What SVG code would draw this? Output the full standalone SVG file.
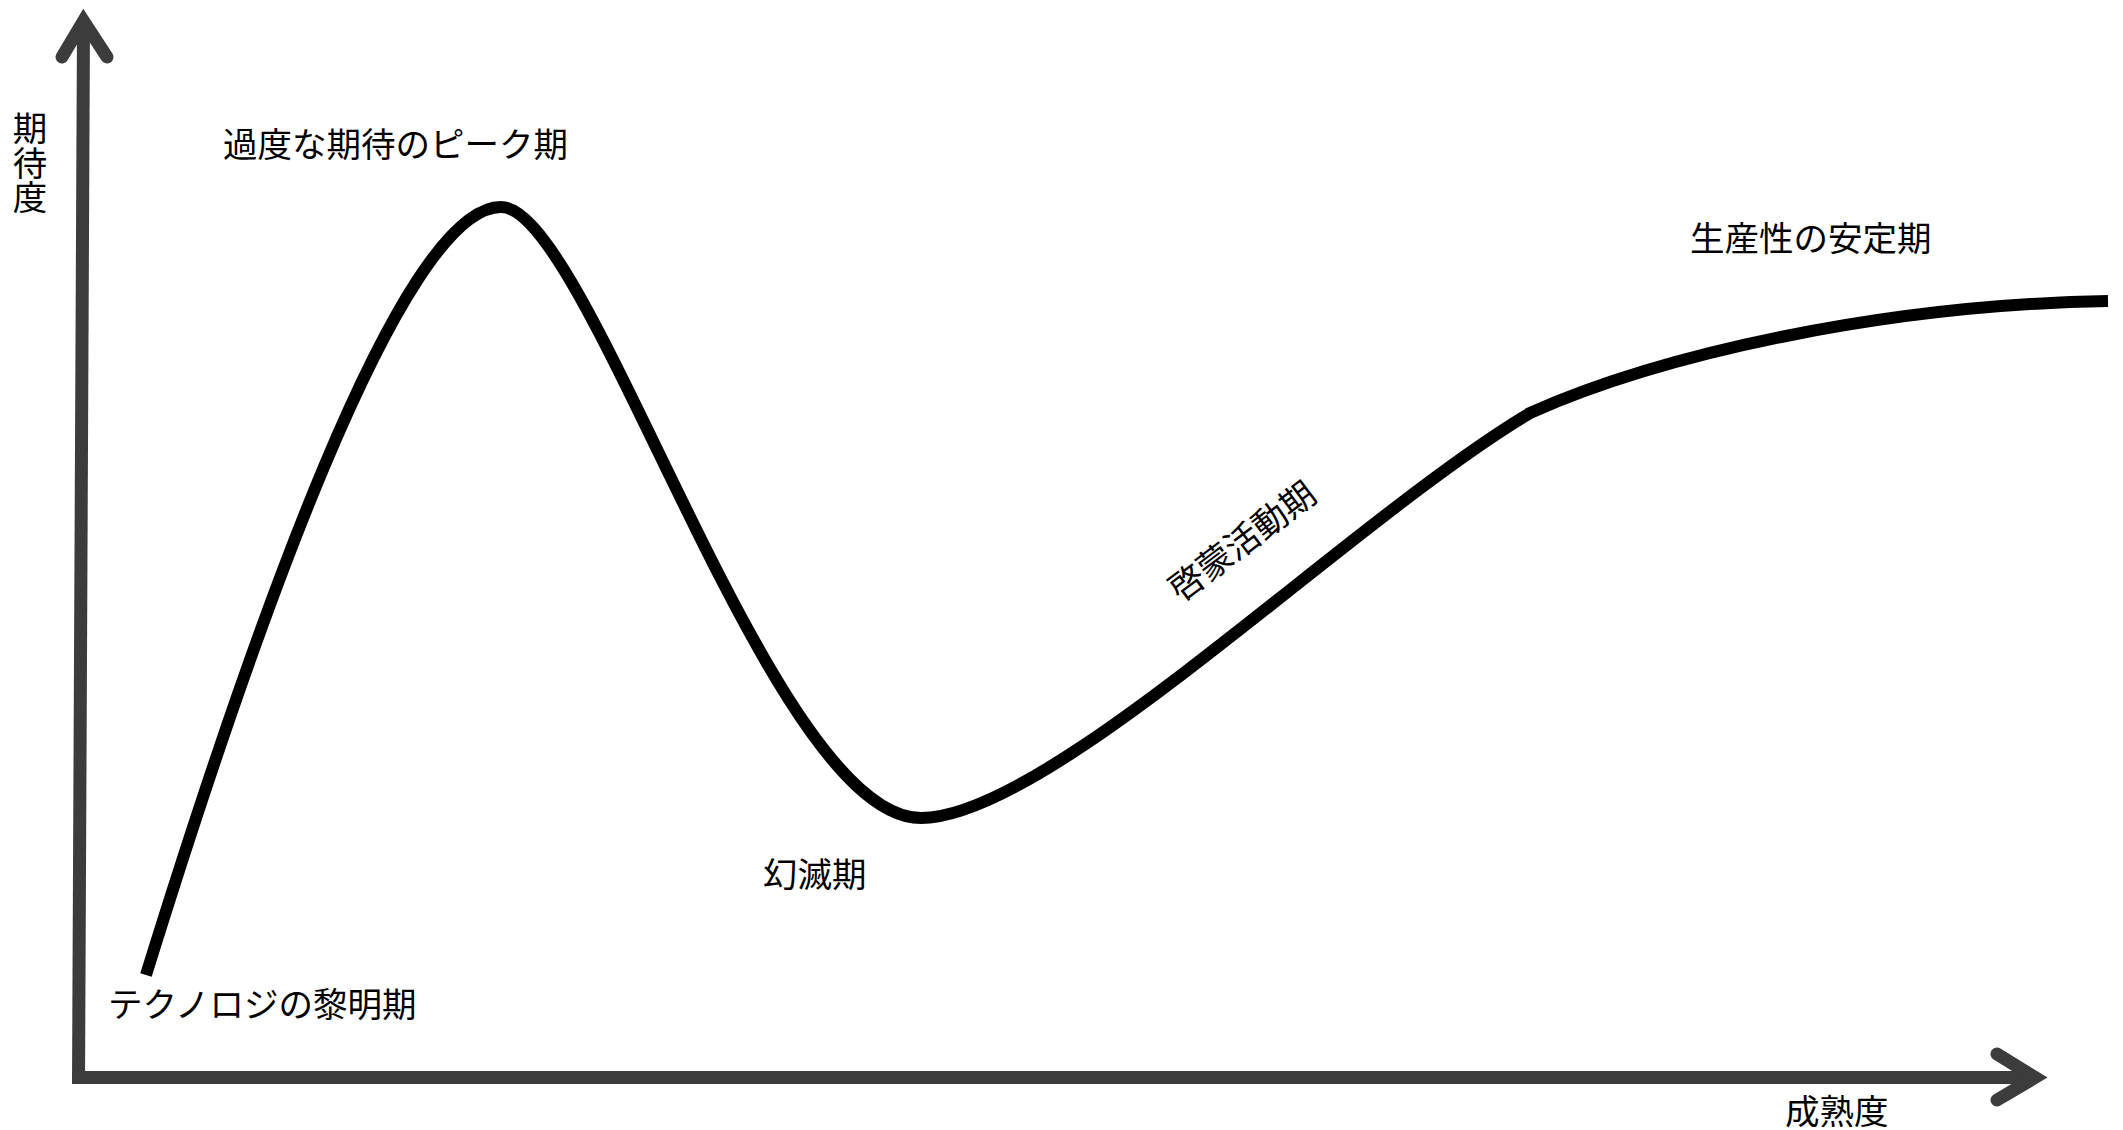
<svg xmlns="http://www.w3.org/2000/svg" width="2123" height="1130" viewBox="0 0 2123 1130">
<style>
.axis{fill:none;stroke:#3c3c3c;stroke-width:13}
.head{fill:none;stroke:#3c3c3c;stroke-width:13;stroke-linecap:round;stroke-linejoin:miter}
.curve{fill:none;stroke:#000;stroke-width:12;stroke-linecap:butt}
.lbl{font-family:"Noto Sans CJK JP","Noto Sans CJK SC",sans-serif;font-size:34.5px;fill:#000}
.vert{writing-mode:vertical-rl}
</style>
<rect width="2123" height="1130" fill="#fff"/>
<g id="connectors">
  <g id="y-axis">
    <line class="axis" x1="83.5" y1="22" x2="78.5" y2="1084"/>
    <polyline class="head" points="62,57 83.5,21 107,57"/>
  </g>
  <g id="x-axis">
    <line class="axis" x1="72" y1="1077.5" x2="2036" y2="1077.5"/>
    <polyline class="head" points="1997,1054 2035,1077.5 1997,1100"/>
  </g>
  <path id="hype-curve" class="curve" d="M 146 975 C 250 640, 400 207, 501 207 C 590 207, 770 818, 921 818 C 1050 818, 1350 520, 1530 413 C 1660 355, 1880 305, 2108 301"/>
</g>
<g id="label-y"><text class="lbl vert" x="30" y="111">期待度</text></g>
<g id="label-x"><text class="lbl" x="1785" y="1124">成熟度</text></g>
<g id="node-peak"><text class="lbl" x="223" y="157">過度な期待のピーク期</text></g>
<g id="node-dawn"><text class="lbl" x="108" y="1017">テクノロジの黎明期</text></g>
<g id="node-trough"><text class="lbl" x="763" y="887">幻滅期</text></g>
<g id="node-slope"><text class="lbl" transform="translate(1181,603) rotate(-37)">啓蒙活動期</text></g>
<g id="node-plateau"><text class="lbl" x="1690" y="251">生産性の安定期</text></g>
</svg>
